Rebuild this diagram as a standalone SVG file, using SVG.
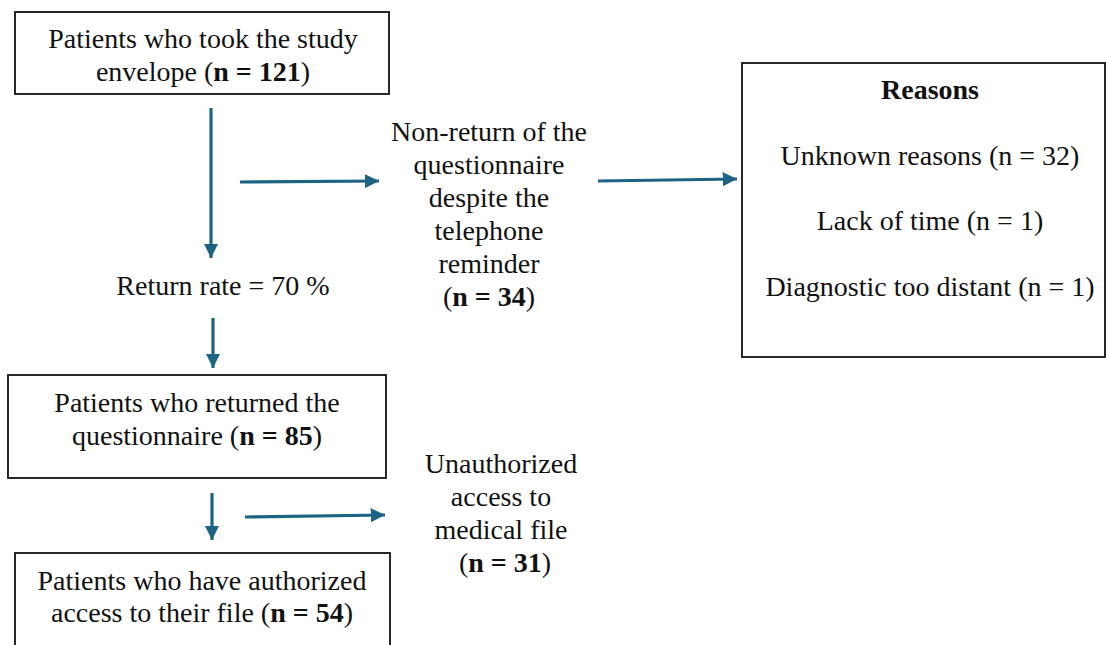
<svg xmlns="http://www.w3.org/2000/svg" width="1106" height="645" viewBox="0 0 1106 645">
<defs>
<marker id="ah" viewBox="0 0 10 10" refX="10" refY="5" markerWidth="4.5" markerHeight="4.5" orient="auto" markerUnits="strokeWidth">
<path d="M0,0 L10,5 L0,10 Z" fill="#1d6384"/>
</marker>
<style>
.box{fill:#fff;stroke:#111;stroke-width:1.8}
.c{stroke:#1d6384;stroke-width:3.2;fill:none;marker-end:url(#ah)}
</style>
</defs>
<rect width="1106" height="645" fill="#fff"/>
<g id="connectors">
<line class="c" x1="211" y1="108" x2="211" y2="258"/>
<line class="c" x1="240" y1="182" x2="379" y2="181"/>
<line class="c" x1="598" y1="181" x2="737" y2="179"/>
<line class="c" x1="213" y1="318" x2="213" y2="368"/>
<line class="c" x1="212" y1="493" x2="212" y2="540"/>
<line class="c" x1="245" y1="517" x2="385" y2="515"/>
</g>
<g font-family="Liberation Serif" font-size="28" fill="#111" text-anchor="middle">
<g id="n-envelope">
<rect class="box" x="15" y="12" width="374" height="82"/>
<text x="203" y="48">Patients who took the study</text>
<text x="203" y="81">envelope (<tspan font-weight="bold">n = 121</tspan>)</text>
</g>
<g id="n-nonreturn">
<text x="489" y="141">Non-return of the</text>
<text x="489" y="174">questionnaire</text>
<text x="489" y="207">despite the</text>
<text x="489" y="240">telephone</text>
<text x="489" y="273">reminder</text>
<text x="489" y="306">(<tspan font-weight="bold">n = 34</tspan>)</text>
</g>
<g id="n-reasons">
<rect class="box" x="742" y="63" width="363" height="294"/>
<text x="930" y="99" font-weight="bold">Reasons</text>
<text x="930" y="165">Unknown reasons (n = 32)</text>
<text x="930" y="230">Lack of time (n = 1)</text>
<text x="930" y="296">Diagnostic too distant (n = 1)</text>
</g>
<g id="n-rate">
<text x="223" y="295">Return rate = 70 %</text>
</g>
<g id="n-returned">
<rect class="box" x="8" y="375" width="378" height="103"/>
<text x="197" y="412">Patients who returned the</text>
<text x="197" y="445">questionnaire (<tspan font-weight="bold">n = 85</tspan>)</text>
</g>
<g id="n-unauth">
<text x="501" y="473">Unauthorized</text>
<text x="501" y="506">access to</text>
<text x="501" y="539">medical file</text>
<text x="505" y="572">(<tspan font-weight="bold">n = 31</tspan>)</text>
</g>
<g id="n-authorized">
<rect class="box" x="15" y="553" width="375" height="100"/>
<text x="202" y="590">Patients who have authorized</text>
<text x="202" y="622">access to their file (<tspan font-weight="bold">n = 54</tspan>)</text>
</g>
</g>
</svg>
